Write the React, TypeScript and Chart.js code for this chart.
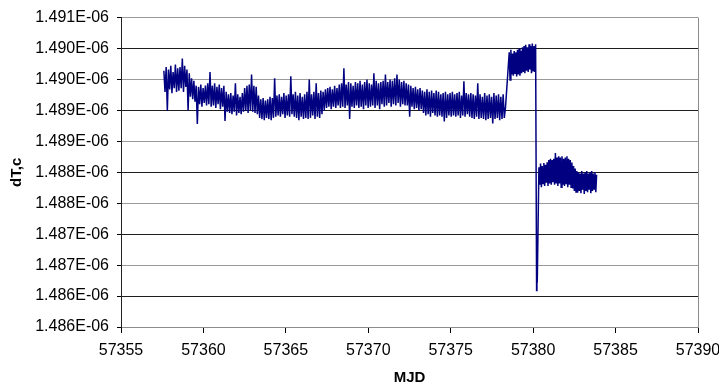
import React, { useEffect, useRef } from 'react';
import { Chart, registerables } from 'chart.js';

Chart.register(...registerables);

// ---- axes ----
const X_MIN = 57355;
const X_MAX = 57390;
const X_STEP = 5;
// y values are kept in nanoseconds; labels show seconds as in the original
const yTickValues = [1485.5, 1486.0, 1486.5, 1487.0, 1487.5, 1488.0, 1488.5, 1489.0, 1489.5, 1490.0, 1490.5];
const yTickLabels = ['1.486E-06', '1.486E-06', '1.487E-06', '1.487E-06', '1.488E-06', '1.488E-06', '1.489E-06', '1.489E-06', '1.490E-06', '1.490E-06', '1.491E-06'];
const xTitle = 'MJD';
const yTitle = 'dT,c';

// ---- data (dT,c in ns), sampled segments: start MJD, sample spacing, values ----
const segAStart = 57357.6;
const segAStep = 0.07;
const segAValues = [
  1489.64, 1489.30, 1489.70, 1488.99, 1489.66, 1489.34, 1489.72, 1489.28, 1489.62, 1489.36, 1489.74, 1489.30, 1489.68, 1489.32,
  1489.70, 1489.36, 1489.84, 1489.30, 1489.72, 1489.38, 1489.66, 1489.00, 1489.60, 1489.22, 1489.52, 1489.18, 1489.48, 1489.14,
  1489.40, 1488.78, 1489.38, 1489.10, 1489.42, 1489.06, 1489.36, 1489.12, 1489.40, 1489.08, 1489.44, 1489.10, 1489.62, 1489.06,
  1489.40, 1489.08, 1489.44, 1489.04, 1489.38, 1489.10, 1489.42, 1489.02, 1489.36, 1489.06, 1489.40, 1488.83, 1489.30, 1488.98,
  1489.26, 1488.96, 1489.28, 1488.94, 1489.24, 1488.98, 1489.44, 1488.92, 1489.26, 1488.96, 1489.22, 1488.94, 1489.28, 1488.98,
  1489.36, 1488.99, 1489.40, 1488.96, 1489.42, 1489.00, 1489.58, 1488.98, 1489.40, 1488.96, 1489.38, 1488.94, 1489.24, 1488.88,
  1489.18, 1488.86, 1489.20, 1488.84, 1489.16, 1488.88, 1489.18, 1488.86, 1489.22, 1488.84, 1489.20, 1488.88, 1489.52, 1488.90,
  1489.24, 1488.92, 1489.26, 1488.90, 1489.22, 1488.94, 1489.28, 1488.88, 1489.24, 1488.92, 1489.26, 1488.90, 1489.55, 1488.94,
  1489.26, 1488.90, 1489.30, 1488.88, 1489.24, 1488.84, 1489.28, 1488.90, 1489.22, 1488.86, 1489.26, 1488.88, 1489.30, 1488.86,
  1489.50, 1488.88, 1489.26, 1488.92, 1489.30, 1488.86, 1489.44, 1488.90, 1489.28, 1488.88, 1489.32, 1488.94, 1489.30, 1489.00,
  1489.34, 1489.04, 1489.36, 1489.06, 1489.38, 1489.02, 1489.34, 1489.06, 1489.40, 1489.04, 1489.36, 1489.08, 1489.42, 1489.04,
  1489.44, 1489.06, 1489.68, 1489.04, 1489.42, 1489.08, 1489.46, 1488.86, 1489.44, 1489.06, 1489.40, 1489.04, 1489.46, 1489.08,
  1489.44, 1489.04, 1489.48, 1489.06, 1489.42, 1489.02, 1489.46, 1489.08, 1489.50, 1489.04, 1489.44, 1489.06, 1489.42, 1489.08,
  1489.60, 1489.04, 1489.48, 1489.08, 1489.44, 1489.02, 1489.46, 1489.10, 1489.48, 1489.06, 1489.58, 1489.08, 1489.46, 1489.12,
  1489.50, 1489.06, 1489.48, 1489.10, 1489.52, 1489.08, 1489.58, 1489.12, 1489.50, 1489.06, 1489.46, 1489.10, 1489.48, 1489.08,
  1489.44, 1489.08, 1489.42, 1488.90, 1489.40, 1489.06, 1489.36, 1489.02, 1489.38, 1489.04, 1489.34, 1489.00, 1489.36, 1489.02,
  1489.32, 1488.96, 1489.30, 1488.92, 1489.34, 1488.94, 1489.30, 1488.90, 1489.32, 1488.96, 1489.28, 1488.92, 1489.32, 1488.90,
  1489.30, 1488.92, 1489.26, 1488.90, 1489.28, 1488.82, 1489.30, 1488.88, 1489.26, 1488.92, 1489.28, 1488.90, 1489.30, 1488.92,
  1489.26, 1488.90, 1489.28, 1488.92, 1489.30, 1488.88, 1489.24, 1488.92, 1489.47, 1488.90, 1489.28, 1488.94, 1489.26, 1488.90,
  1489.28, 1488.88, 1489.26, 1488.86, 1489.24, 1488.90, 1489.44, 1488.86, 1489.26, 1488.88, 1489.22, 1488.86, 1489.28, 1488.84,
  1489.24, 1488.86, 1489.26, 1488.88, 1489.22, 1488.79, 1489.28, 1488.86, 1489.24, 1488.88, 1489.26, 1488.84, 1489.22, 1488.86,
  1489.26, 1488.88, 1489.04,
];

const segBStart = 57378.55;
const segBStep = 0.05;
const segBValues = [
  1489.94, 1489.49, 1489.98, 1489.58, 1489.92, 1489.56, 1489.96, 1489.60, 1489.94, 1489.55,
  1489.98, 1489.58, 1490.00, 1489.56, 1489.96, 1489.60, 1490.02, 1489.62, 1490.04, 1489.60,
  1490.06, 1489.64, 1490.02, 1489.62, 1490.07, 1489.66, 1490.04, 1489.60, 1490.08, 1489.64,
  1490.04, 1489.62, 1490.07,
];

const segCStart = 57380.21;
const segCStep = 0.02;
const segCValues = [1486.09, 1486.38, 1486.22];

const segDStart = 57380.35;
const segDStep = 0.05;
const segDValues = [
  1488.08, 1487.80, 1488.14, 1487.76, 1488.10, 1487.82, 1488.15, 1487.78, 1488.12, 1487.83, 1488.16, 1487.78,
  1488.20, 1487.82, 1488.22, 1487.80, 1488.20, 1487.84, 1488.22,
  1487.80, 1488.31, 1487.82, 1488.24, 1487.78, 1488.26, 1487.82, 1488.24, 1487.76, 1488.26,
  1487.80, 1488.22, 1487.78, 1488.24, 1487.82, 1488.26, 1487.76, 1488.22, 1487.80, 1488.20,
  1487.76, 1488.16, 1487.74, 1488.10, 1487.70, 1488.06, 1487.68, 1488.02,
  1487.67, 1488.00, 1487.70, 1487.98, 1487.66, 1488.02, 1487.72, 1487.98, 1487.65, 1488.00, 1487.70, 1488.02,
  1487.68, 1487.98, 1487.72, 1488.00, 1487.66, 1488.02, 1487.70, 1487.98, 1487.73, 1488.00, 1487.68, 1487.96,
];

const segments = [
  { start: segAStart, step: segAStep, values: segAValues },
  { start: segBStart, step: segBStep, values: segBValues },
  { start: segCStart, step: segCStep, values: segCValues },
  { start: segDStart, step: segDStep, values: segDValues },
];

const FONT = '"Liberation Sans", Arial, Helvetica, sans-serif';

const plotBorder = {
  id: 'plotBorder',
  afterDraw(chart: any) {
    const { ctx, chartArea } = chart;
    ctx.save();
    ctx.strokeStyle = '#8c8c8c';
    ctx.lineWidth = 1;
    const x = Math.round(chartArea.right) + 0.5;
    ctx.beginPath();
    ctx.moveTo(x, chartArea.top);
    ctx.lineTo(x, chartArea.bottom);
    ctx.stroke();
    ctx.restore();
  },
};

export default function App() {
  const ref = useRef<HTMLCanvasElement | null>(null);

  useEffect(() => {
    if (!ref.current) return;
    const points = segments.flatMap((s) =>
      s.values.map((v, i) => ({ x: s.start + i * s.step, y: v }))
    );
    const chart = new Chart(ref.current, {
      type: 'scatter',
      data: {
        datasets: [
          {
            label: yTitle,
            data: points,
            showLine: true,
            borderColor: '#000080',
            backgroundColor: '#000080',
            borderWidth: 1.5,
            pointRadius: 0,
            tension: 0,
          },
        ],
      },
      options: {
        animation: false,
        responsive: false,
        devicePixelRatio: 1,
        layout: { padding: { left: 0, top: 16, right: 21, bottom: 0 } },
        plugins: { legend: { display: false }, tooltip: { enabled: false } },
        scales: {
          x: {
            type: 'linear',
            min: X_MIN,
            max: X_MAX,
            afterFit: (s: any) => {
              s.height = 58;
              s.paddingLeft = 0;
              s.paddingRight = 0;
            },
            ticks: {
              stepSize: X_STEP,
              color: '#000',
              font: { family: FONT, size: 16 },
              padding: 8,
              maxRotation: 0,
              callback: (v: any) => String(v),
            },
            grid: {
              drawOnChartArea: false,
              drawTicks: true,
              tickLength: 6,
              tickColor: '#000',
            },
            border: { display: true, color: '#8c8c8c', width: 1 },
            title: {
              display: true,
              text: xTitle,
              color: '#000',
              font: { family: FONT, size: 15, weight: 'bold' },
              padding: { top: 0, bottom: -2 },
            },
          },
          y: {
            type: 'linear',
            min: yTickValues[0],
            max: yTickValues[yTickValues.length - 1],
            afterFit: (s: any) => { s.width = 121; },
            afterBuildTicks: (s: any) => {
              s.ticks = yTickValues.map((v) => ({ value: v }));
            },
            ticks: {
              color: '#000',
              font: { family: FONT, size: 16 },
              padding: 8,
              callback: (_v: any, i: number) => yTickLabels[i],
            },
            grid: {
              color: (c: any) => (c.index % 2 === 1 ? '#1e1e1e' : '#9a9a9a'),
              tickColor: '#000',
              tickLength: 4,
              lineWidth: 1,
            },
            border: { display: true, color: '#222', width: 1 },
            title: {
              display: true,
              text: yTitle,
              color: '#000',
              font: { family: FONT, size: 15, weight: 'bold' },
              padding: { top: 8, bottom: 0 },
            },
          },
        },
      },
      plugins: [plotBorder],
    });
    return () => chart.destroy();
  }, []);

  return (
    <div style={{ position: 'fixed', left: 0, top: 0, width: 719, height: 385, background: '#fff' }}>
      <canvas ref={ref} width={719} height={385} style={{ display: 'block', width: 719, height: 385 }} />
    </div>
  );
}
